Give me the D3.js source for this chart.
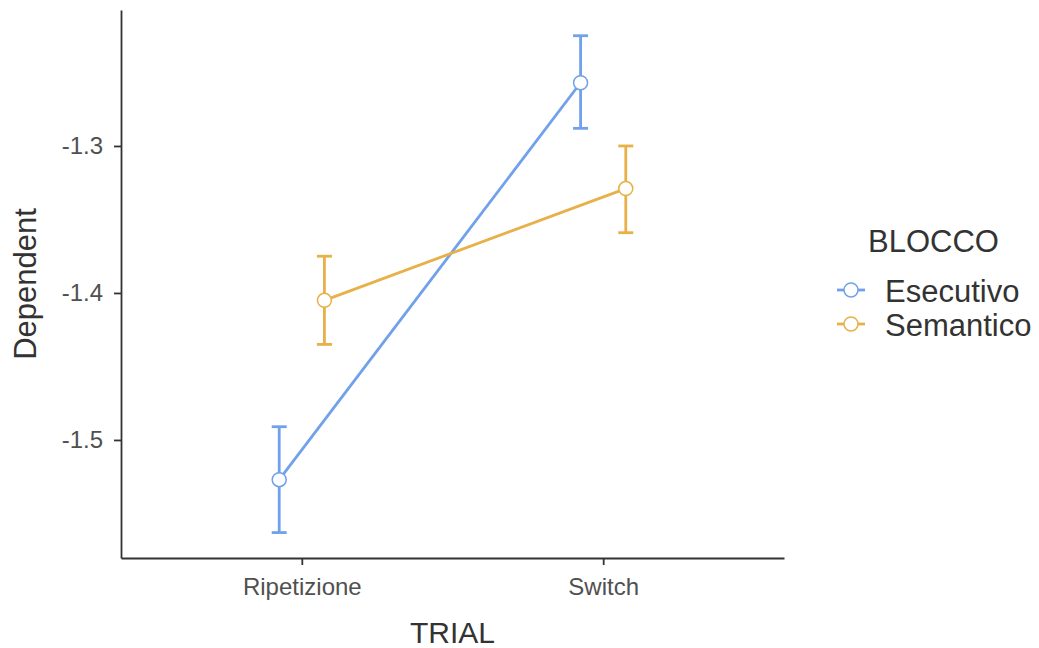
<!DOCTYPE html>
<html>
<head>
<meta charset="utf-8">
<script src="https://d3js.org/d3.v7.min.js"></script>
<style>
  body { margin: 0; background: #fff; }
  text { font-family: "Liberation Sans", Arial, sans-serif; }
</style>
</head>
<body>
<div id="chart"></div>
<script>
const trials = ["Ripetizione", "Switch"];
const groups = ["Esecutivo", "Semantico"];
const groupColors = ["#70A1EA", "#E8B048"];
const yTicks = [-1.5, -1.4, -1.3];

// means and error bar limits, per group, in trial order
const esecutivoMean = [-1.527, -1.257];
const esecutivoLow  = [-1.563, -1.288];
const esecutivoHigh = [-1.491, -1.225];
const semanticoMean = [-1.405, -1.329];
const semanticoLow  = [-1.435, -1.359];
const semanticoHigh = [-1.375, -1.300];

const series = [
  {name: groups[0], color: groupColors[0], mean: esecutivoMean, low: esecutivoLow, high: esecutivoHigh},
  {name: groups[1], color: groupColors[1], mean: semanticoMean, low: semanticoLow, high: semanticoHigh}
];

const W = 1039, H = 648;
const plot = {left: 121, right: 784, top: 10, bottom: 558};

const svg = d3.select("#chart").append("svg")
    .attr("width", W)
    .attr("height", H);

const x = d3.scalePoint()
    .domain(trials)
    .range([plot.left, plot.right])
    .padding(0.6);

const y = d3.scaleLinear()
    .domain([-1.5803, -1.2075])
    .range([plot.bottom, plot.top]);

const dodge = d3.scaleOrdinal()
    .domain(groups)
    .range([-x.step() * 0.075, x.step() * 0.075]);

// axes
const xAxis = svg.append("g")
    .attr("transform", `translate(0,${plot.bottom})`)
    .call(d3.axisBottom(x).tickSizeInner(7).tickSizeOuter(0).tickPadding(13));
const yAxis = svg.append("g")
    .attr("transform", `translate(${plot.left},0)`)
    .call(d3.axisLeft(y).tickValues(yTicks).tickSizeInner(7).tickSizeOuter(0).tickPadding(11).tickFormat(d3.format(".1f")));

[xAxis, yAxis].forEach(a => {
  a.select(".domain").attr("stroke", "#333").attr("stroke-width", 1.8);
  a.selectAll(".tick line").attr("stroke", "#333").attr("stroke-width", 1.8);
  a.selectAll(".tick text").attr("fill", "#505050").style("font-size", "24px")
    .style("font-family", "'Liberation Sans', Arial, sans-serif");
});
yAxis.selectAll(".tick text").text(d => d3.format(".1f")(d).replace("−", "-"));

svg.append("text")
    .attr("x", (plot.left + plot.right) / 2)
    .attr("y", 643)
    .attr("text-anchor", "middle")
    .attr("fill", "#333")
    .style("font-size", "30px")
    .text("TRIAL");

svg.append("text")
    .attr("transform", `translate(36,${(plot.top + plot.bottom) / 2}) rotate(-90)`)
    .attr("text-anchor", "middle")
    .attr("fill", "#333")
    .style("font-size", "31px")
    .text("Dependent");

// series
const line = d3.line();
series.forEach(s => {
  const g = svg.append("g");
  const pts = trials.map((t, i) => [x(t) + dodge(s.name), y(s.mean[i])]);

  g.append("path")
      .attr("d", line(pts))
      .attr("fill", "none")
      .attr("stroke", s.color)
      .attr("stroke-width", 2.8);

  trials.forEach((t, i) => {
    const cx = x(t) + dodge(s.name);
    g.append("line")
        .attr("x1", cx).attr("x2", cx)
        .attr("y1", y(s.low[i])).attr("y2", y(s.high[i]))
        .attr("stroke", s.color).attr("stroke-width", 2.8);
    [s.low[i], s.high[i]].forEach(v => {
      g.append("line")
          .attr("x1", cx - 7.5).attr("x2", cx + 7.5)
          .attr("y1", y(v)).attr("y2", y(v))
          .attr("stroke", s.color).attr("stroke-width", 2.8);
    });
  });

  g.selectAll("circle")
    .data(pts)
    .join("circle")
      .attr("cx", d => d[0])
      .attr("cy", d => d[1])
      .attr("r", 7)
      .attr("fill", "#fff")
      .attr("stroke", s.color)
      .attr("stroke-width", 1.5);
});

// legend
const legend = svg.append("g").attr("transform", "translate(837,0)");
legend.append("text")
    .attr("x", 31)
    .attr("y", 252)
    .attr("fill", "#333")
    .style("font-size", "31px")
    .text("BLOCCO");

series.forEach((s, i) => {
  const ly = 290 + i * 34;
  legend.append("line")
      .attr("x1", 0).attr("x2", 28)
      .attr("y1", ly).attr("y2", ly)
      .attr("stroke", s.color).attr("stroke-width", 2.8);
  legend.append("circle")
      .attr("cx", 14).attr("cy", ly)
      .attr("r", 7)
      .attr("fill", "#fff")
      .attr("stroke", s.color)
      .attr("stroke-width", 1.5);
  legend.append("text")
      .attr("x", 48)
      .attr("y", ly + 12)
      .attr("fill", "#333")
      .style("font-size", "31px")
      .text(s.name);
});
</script>
</body>
</html>
